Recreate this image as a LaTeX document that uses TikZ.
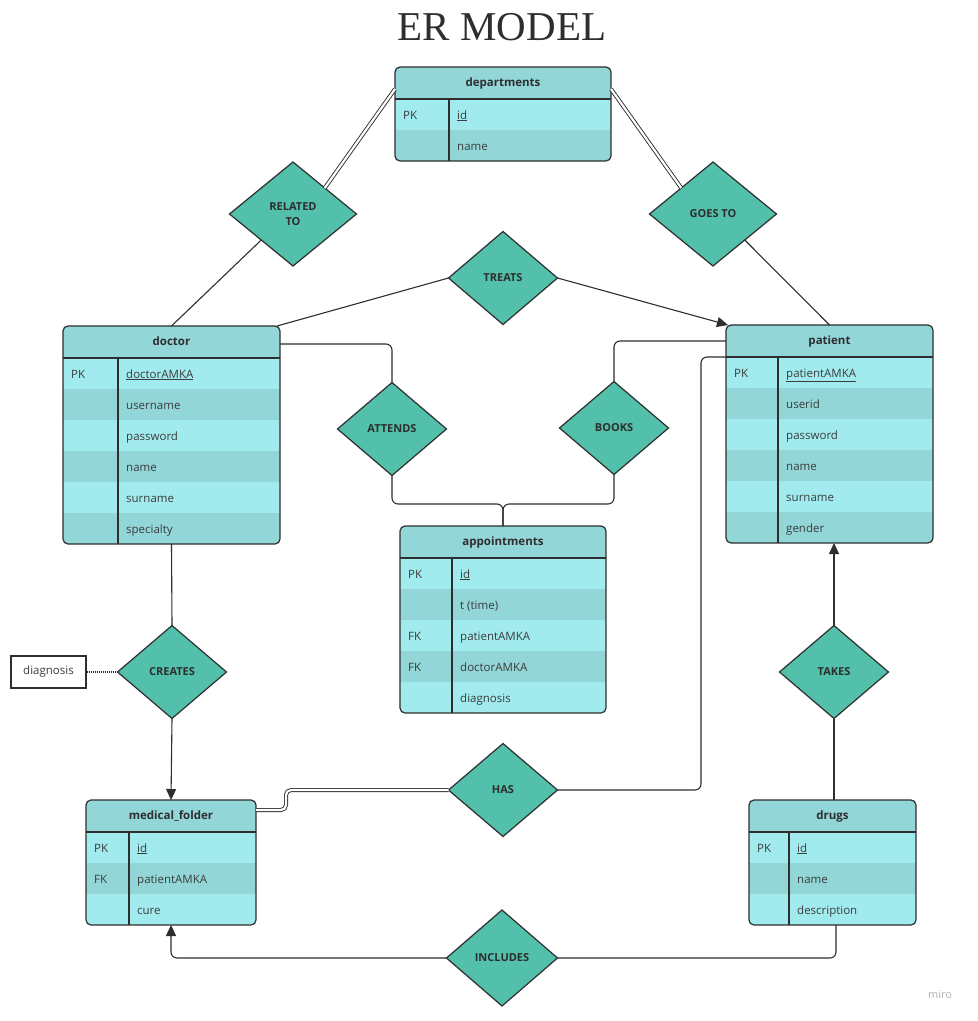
\documentclass[tikz,border=0pt]{standalone}
\usepackage{fontspec}
\setmainfont{Open Sans}
\newfontfamily\titlefont{Liberation Serif}
\usetikzlibrary{shapes.geometric,arrows.meta}
\definecolor{hdrc}{HTML}{92D6D8}
\definecolor{rowL}{HTML}{A1EBEF}
\definecolor{rowD}{HTML}{92D6D8}
\definecolor{relc}{HTML}{52C0AA}
\definecolor{ink}{HTML}{2E2E2E}
\definecolor{txt}{HTML}{3C3C3C}
\tikzset{
  relbox/.style={diamond, draw=ink, fill=relc, line width=1.2pt, minimum width=109, minimum height=93,
    inner sep=0pt, outer sep=0pt, font=\fontsize{11}{14.5}\selectfont\bfseries, text=ink, align=center},
  conn/.style={draw=ink, line width=1.1pt},
  dbl/.style={draw=ink, line width=0.9pt, double=white, double distance=2.2pt},
  arr/.style={conn, -{Triangle[length=11pt,width=10pt]}},
  tablebox/.style={draw=ink, line width=1.2pt, rounded corners=5pt, inner sep=0pt, outer sep=0pt},
  tableline/.style={draw=ink, line width=1.2pt},
  keytxt/.style={anchor=west, inner sep=0pt, text height=8.5pt, text depth=2.5pt, text=txt, font=\fontsize{11.5}{13}\selectfont},
  attrtxt/.style={keytxt},
  hdrtxt/.style={inner sep=0pt, text height=8.5pt, text depth=2.5pt, text=ink, font=\fontsize{11.5}{13}\selectfont\bfseries},
}
% name, x, y, w, h, key-col width, title, rows
\newcommand\ertable[8]{%
  \begin{scope}
    \clip[rounded corners=5pt] (#2,#3) rectangle ++(#4,#5);
    \fill[rowL] (#2,#3) rectangle ++(#4,#5);
    \fill[hdrc] (#2,#3) rectangle ++(#4,32);
    \foreach \k/\t/\s [count=\i] in {#8}{
      \pgfmathsetmacro\ry{#3+32+31*(\i-1)}
      \fill[fill=\s] (#2,\ry) rectangle ++(#4,31);
      \node[keytxt] (#1-k\i) at (#2+8,\ry+17) {\k};
      \node[attrtxt] (#1-a\i) at (#2+#6+8,\ry+17) {\t};
    }
  \end{scope}
  \node[tablebox, minimum width=#4, minimum height=#5, anchor=north west] (#1) at (#2,#3) {};
  \draw[tableline] (#2,#3+32) -- ++(#4,0);
  \draw[tableline] (#2+#6,#3+32) -- (#2+#6,#3+#5);
  \node[hdrtxt] (#1-h) at (#2+#4/2,#3+16.5) {#7};
}
\begin{document}
\begin{tikzpicture}[x=1pt,y=-1pt]
\fill[white] (0,0) rectangle (978,1021);
\useasboundingbox (0,0) rectangle (978,1021);

\node[anchor=base, font=\titlefont\fontsize{41}{48}\selectfont, text=ink, inner sep=0pt] (title) at (502,40) {ER MODEL};

\ertable{dep}{395}{67}{216}{94}{54}{departments}{PK/\underline{id}/rowL,{}/name/rowD}
\ertable{doc}{63}{326}{217}{218}{55}{doctor}{PK/\underline{doctorAMKA}/rowL,{}/username/rowD,{}/password/rowL,{}/name/rowD,{}/surname/rowL,{}/specialty/rowD}
\ertable{pat}{726}{325}{207}{218}{52}{patient}{PK/\underline{patientAMKA}/rowL,{}/userid/rowD,{}/password/rowL,{}/name/rowD,{}/surname/rowL,{}/gender/rowD}
\ertable{app}{400}{526}{206}{187}{52}{appointments}{PK/\underline{id}/rowL,{}/t (time)/rowD,FK/patientAMKA/rowL,FK/doctorAMKA/rowD,{}/diagnosis/rowL}
\ertable{mf}{86}{800}{170}{125}{43}{medical\_folder}{PK/\underline{id}/rowL,FK/patientAMKA/rowD,{}/cure/rowL}
\ertable{drugs}{749}{800}{167}{125}{40}{drugs}{PK/\underline{id}/rowL,{}/name/rowD,{}/description/rowL}

\node[relbox, minimum width=127, minimum height=104] (relto) at (293,214) {RELATED\\TO};
\node[relbox, minimum width=127, minimum height=104] (goes) at (713,214) {GOES TO};
\node[relbox] (treats) at (503,278) {TREATS};
\node[relbox] (att) at (392,429) {ATTENDS};
\node[relbox] (books) at (614,428) {BOOKS};
\node[relbox] (creates) at (172,672) {CREATES};
\node[relbox] (takes) at (834,672) {TAKES};
\node[relbox] (has) at (503,790) {HAS};
\node[relbox, minimum width=111, minimum height=96] (incl) at (502,958) {INCLUDES};

\node[draw=ink, line width=1.2pt, fill=white, minimum width=75, minimum height=32, inner sep=0pt,
      text=txt, font=\fontsize{11.5}{13}\selectfont] (diag) at (48.5,672) {diagnosis};

\coordinate (depL) at ([yshift=-22pt]dep.north west);
\coordinate (depR) at ([yshift=-22pt]dep.north east);
\coordinate (jn) at (503,504);
\coordinate (hasstep) at (286,790);

% departments relations
\draw[dbl] (depL) -- (relto.north east);
\draw[conn] (relto.south west) -- (doc.north);
\draw[dbl] (depR) -- (goes.north west);
\draw[conn] (goes.south east) -- (pat.north);
% treats
\draw[conn] ([xshift=-3pt]doc.north east) -- (treats.west);
\draw[arr] (treats.east) -- ([xshift=2pt]pat.north west);
% attends / books
\draw[conn, rounded corners=6pt] ([yshift=-18pt]doc.north east) -| (att.north);
\draw[conn, rounded corners=6pt] ([yshift=-16pt]pat.north west) -| (books.north);
\draw[conn, rounded corners=6pt] (att.south) |- (jn) -- (app.north);
\draw[conn, rounded corners=6pt] (books.south) |- (jn) -- (app.north);
% has
\draw[conn, rounded corners=6pt] ([yshift=-32pt]pat.north west) -- (701,357) |- (has.east);
\draw[dbl, rounded corners=5pt] (has.west) -- (hasstep) -- (286,810) -- ([yshift=-10pt]mf.north east);
% creates
\draw[conn] (doc.south) -- (creates.north);
\draw[arr] (creates.south) -- (mf.north);
\draw[ink, line width=1.1pt, dash pattern=on 1pt off 1pt] (diag.east) -- (creates.west);
% takes
\draw[conn] ([xshift=1.5pt]drugs.north) -- (takes.south);
\draw[arr] (takes.north) -- (takes.north |- pat.south);
% includes
\draw[conn, rounded corners=6pt] ([xshift=3.5pt]drugs.south) |- (incl.east);
\draw[arr, rounded corners=6pt] (incl.west) -| (mf.south);

\node[font=\fontsize{11}{12}\selectfont, text=black!30] (miro) at (940,995) {miro};
\end{tikzpicture}
\end{document}
